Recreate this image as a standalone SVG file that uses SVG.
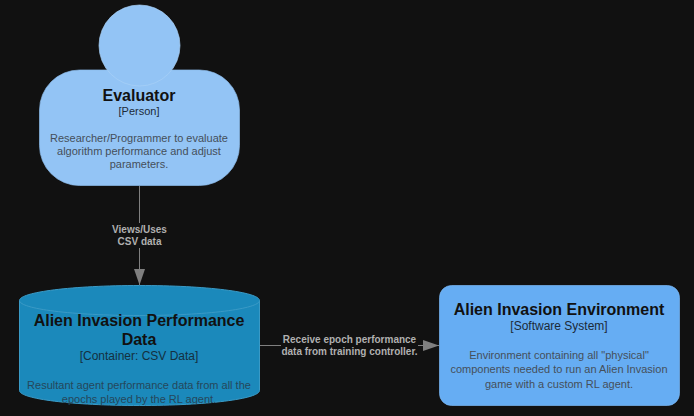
<svg xmlns="http://www.w3.org/2000/svg" width="694" height="416" viewBox="0 0 694 416">
<defs>
<style>
text{font-family:"Liberation Sans",Arial,sans-serif;text-anchor:middle}
.t{font-size:16px;font-weight:bold;fill:#111111}
.s{font-size:12px;fill:#1c2a38}
.d{font-size:11px;fill:#454f5a}
.l{font-size:10px;font-weight:bold;fill:#b0b0b0}
.e{stroke:#808080;stroke-width:1;fill:none}
</style>
<marker id="a" markerUnits="userSpaceOnUse" markerWidth="17" markerHeight="12" refX="16" refY="6" orient="auto"><path d="M0 0.500L16 6L0 11.500Z" fill="#7f7f7f"/></marker>
</defs>
<rect width="694" height="416" fill="#111111"/>
<g id="connectors">
<path class="e" d="M139.500 186V285" marker-end="url(#a)"/>
<path class="e" d="M260 345.500H439" marker-end="url(#a)"/>
<rect x="110" y="223" width="59" height="25" fill="#111111"/>
<rect x="281" y="333" width="137" height="25" fill="#111111"/>
<text class="l" x="139.500" y="233">Views/Uses</text>
<text class="l" x="139.500" y="245">CSV data</text>
<text class="l" x="349.500" y="343">Receive epoch performance</text>
<text class="l" x="349.500" y="355">data from training controller.</text>
</g>
<g id="evaluator">
<rect x="39.500" y="70" width="200" height="115.500" rx="40" fill="#93c4f5" stroke="#8dbceb" stroke-width="0.700"/>
<circle cx="139.500" cy="45.500" r="40.500" fill="#93c4f5" stroke="#a8d0f7" stroke-width="0.700"/>
<text class="t" x="139" y="101">Evaluator</text>
<text class="s" x="139" y="115" style="font-size:11px">[Person]</text>
<text class="d" x="139" y="142">Researcher/Programmer to evaluate</text>
<text class="d" x="139" y="155">algorithm performance and adjust</text>
<text class="d" x="139" y="168">parameters.</text>
</g>
<g id="performance-data">
<path d="M19.500 300.500C19.500 292 73 285.500 139.500 285.500S259.500 292 259.500 300.500V390.500C259.500 399 206 405.500 139.500 405.500S19.500 399 19.500 390.500Z" fill="#1b89bb" stroke="#3a9ac6"/>
<path d="M19.500 300.500C19.500 309 73 315.500 139.500 315.500S259.500 309 259.500 300.500" fill="none" stroke="#3a9ac6"/>
<text class="t" x="139" y="326">Alien Invasion Performance</text>
<text class="t" x="139" y="345">Data</text>
<text class="s" x="139" y="360" style="fill:#14303f">[Container: CSV Data]</text>
<text class="d" x="139" y="389" style="fill:#25475a">Resultant agent performance data from all the</text>
<text class="d" x="139" y="403" style="fill:#25475a">epochs played by the RL agent.</text>
</g>
<g id="environment">
<rect x="439.500" y="285.500" width="240" height="120" rx="12" fill="#66adf3" stroke="#7ab8f5" stroke-width="0.700"/>
<text class="t" x="559" y="315">Alien Invasion Environment</text>
<text class="s" x="559" y="330">[Software System]</text>
<text class="d" x="559" y="359">Environment containing all "physical"</text>
<text class="d" x="559" y="373">components needed to run an Alien Invasion</text>
<text class="d" x="559" y="388">game with a custom RL agent.</text>
</g>
</svg>
